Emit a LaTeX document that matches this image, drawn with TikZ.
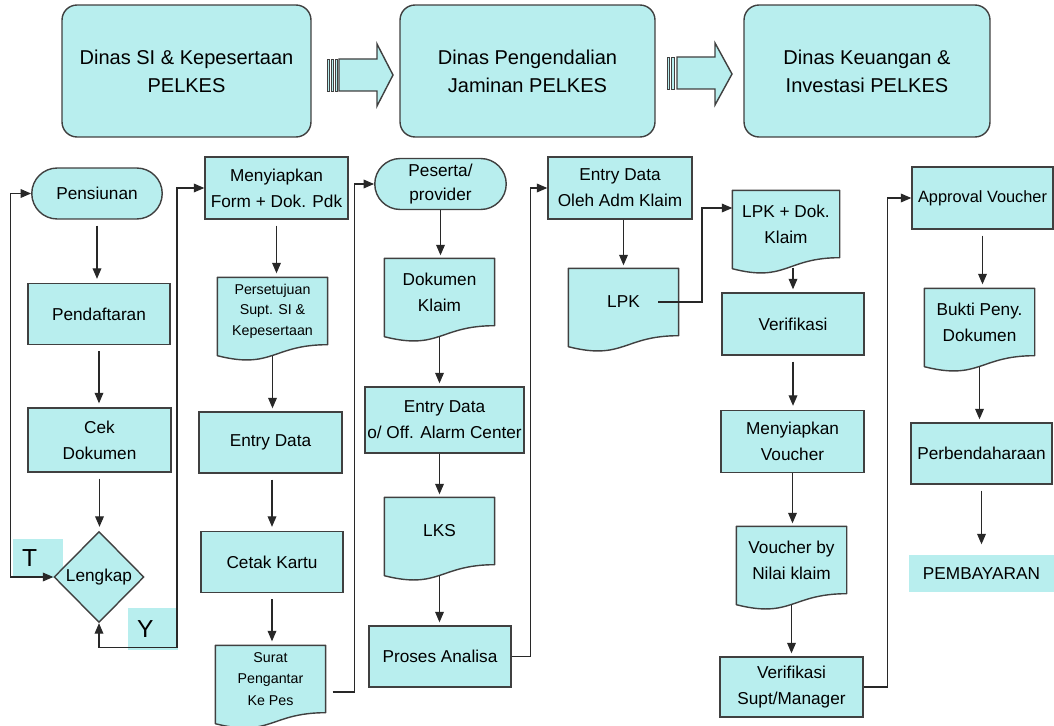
\documentclass[tikz,border=0pt]{standalone}
\usepackage{fontspec}
\setmainfont{Liberation Sans}
\usetikzlibrary{shapes.geometric,shapes.misc,arrows.meta,calc}

\definecolor{boxfill}{RGB}{184,238,238}
\definecolor{boxline}{RGB}{64,64,64}
\definecolor{wire}{RGB}{40,40,40}

\tikzset{
  base/.style={draw=boxline, fill=boxfill, line width=0.8pt, inner sep=1pt, align=center,
    font=\fontsize{9.8}{14.8}\selectfont},
  header/.style={base, rounded corners=0.3cm, minimum height=2.64cm, font=\fontsize{11.4}{16}\selectfont},
  procbox/.style={base, minimum width=2.84cm, minimum height=1.22cm},
  termbox/.style={base, rounded rectangle, minimum width=2.7cm, minimum height=1.02cm},
  decide/.style={base, diamond, aspect=1, inner sep=0pt, minimum width=1.8cm, minimum height=1.82cm},
  docbox/.style={base, draw=none, minimum width=2.18cm, minimum height=1.32cm},
  tagbox/.style={fill=boxfill, font=\fontsize{14}{16}\selectfont, minimum width=1cm,
    inner xsep=0.18cm, text width=0.64cm, align=left},
  link/.style={draw=wire, line width=0.6pt, -{Triangle[length=6pt,width=5pt]}},
  flow/.style={link, shorten <=0.12cm, shorten >=0.08cm},
  flowtight/.style={link, shorten >=0.06cm},
  loopback/.style={draw=wire, line width=0.6pt,
    {Triangle[length=6pt,width=5pt]}-{Triangle[length=6pt,width=5pt]}},
  bigarrow/.style={draw=boxline, fill=boxfill, line width=0.8pt},
}

% wavy bottom of a document node
\newcommand\docwave[1]{%
  \fill[boxfill] (#1.south east) .. controls (#1.south) and ([yshift=-0.5cm]#1.south) ..
    ([yshift=-0.22cm]#1.south west) -- ([yshift=1pt]#1.south west) -- ([yshift=1pt]#1.south east) -- cycle;
  \draw[boxline, line width=0.8pt, line join=round] ([yshift=-0.22cm]#1.south west) -- (#1.north west)
    -- (#1.north east) -- (#1.south east) .. controls (#1.south) and ([yshift=-0.5cm]#1.south) ..
    ([yshift=-0.22cm]#1.south west) -- cycle;
}

\begin{document}
\begin{tikzpicture}[x=0.02cm, y=-0.02cm]
  \useasboundingbox (0,0) rectangle (1054,726);

  % headers
  \node[header, minimum width=4.98cm] (dinasSI) at (186.5,71) {Dinas SI \& Kepesertaan\\PELKES};
  \node[header, minimum width=5.1cm] (dinasPJ) at (527.5,71) {Dinas Pengendalian\\Jaminan PELKES};
  \node[header, minimum width=4.92cm] (dinasKI) at (867,71) {Dinas Keuangan \&\\Investasi PELKES};

  \draw[bigarrow] (339,59) -- (377,59) -- (377,44) -- (393,75) -- (377,106) -- (377,91) -- (339,91) -- cycle;
  \foreach \s in {327,331,335}
    \draw[bigarrow, line width=0.5pt] (\s,59) rectangle ++(2.5,32);
  \draw[bigarrow] (677,57) -- (715,57) -- (715,43) -- (732,74) -- (715,105) -- (715,89) -- (677,89) -- cycle;
  \foreach \s in {667,671.5}
    \draw[bigarrow, line width=0.5pt] (\s,57) rectangle ++(2.5,32);

  % SI & Kepesertaan
  \node[termbox, minimum width=2.68cm] (pensiunan) at (97,193.5) {Pensiunan};
  \node[procbox] (daftar) at (99,314) {Pendaftaran};
  \node[procbox, minimum width=2.86cm, minimum height=1.28cm] (cekdok) at (99.5,440) {Cek\\Dokumen};
  \node[tagbox, minimum height=0.78cm] (tagT) at (38,558.5) {T};
  \node[decide] (lengkap) at (99,577) {Lengkap};
  \node[tagbox, minimum height=0.84cm] (tagY) at (153,629) {Y};

  \node[procbox, minimum width=2.86cm, minimum height=1.24cm] (siapform) at (276.5,188) {Menyiapkan\\Form + Dok. Pdk};
  \node[docbox, font=\fontsize{8.1}{11.6}\selectfont] (setuju) at (272.5,311) {Persetujuan\\Supt. SI \&\\Kepesertaan};
  \docwave{setuju}
  \node[procbox, minimum width=2.86cm] (entrySI) at (270.5,442.5) {Entry Data};
  \node[procbox] (cetak) at (272,562) {Cetak Kartu};
  \node[docbox, font=\fontsize{8.1}{12.2}\selectfont] (surat) at (270.5,679) {Surat\\Pengantar\\Ke Pes};
  \docwave{surat}

  % Pengendalian Jaminan
  \node[termbox, font=\fontsize{9.8}{13.6}\selectfont] (peserta) at (440.5,184) {Peserta/\\provider};
  \node[docbox] (dokklaim) at (439.5,292) {Dokumen\\Klaim};
  \docwave{dokklaim}
  \node[procbox, minimum width=3.18cm, minimum height=1.32cm] (entryAC) at (444.5,420) {Entry Data\\o/ Off. Alarm Center};
  \node[docbox] (lks) at (439.5,531) {LKS};
  \docwave{lks}
  \node[procbox] (analisa) at (440,656.5) {Proses Analisa};

  \node[procbox, minimum width=2.88cm, minimum height=1.24cm] (entryAdm) at (620,188) {Entry Data\\Oleh Adm Klaim};
  \node[docbox] (lpk) at (623.5,302) {LPK};
  \docwave{lpk}

  % Keuangan & Investasi
  \node[docbox, minimum width=2.12cm] (lpkdok) at (786,224) {LPK + Dok.\\Klaim};
  \docwave{lpkdok}
  \node[procbox, minimum height=1.24cm] (verif) at (793,324) {Verifikasi};
  \node[procbox, minimum width=2.86cm, minimum height=1.24cm] (siapvoucher) at (792.5,441.5) {Menyiapkan\\Voucher};
  \node[docbox] (voucher) at (791.5,560) {Voucher by\\Nilai klaim};
  \docwave{voucher}
  \node[procbox, minimum width=2.86cm, minimum height=1.2cm] (verifsupt) at (791.5,687) {Verifikasi\\Supt/Manager};

  \node[procbox, minimum width=2.82cm, minimum height=1.24cm, inner sep=0pt,
    font=\fontsize{9.3}{12}\selectfont] (approval) at (982.5,198) {Approval Voucher};
  \node[docbox] (bukti) at (979.5,322) {Bukti Peny.\\Dokumen};
  \docwave{bukti}
  \node[procbox, minimum width=2.82cm] (bendahara) at (981.5,453.5) {Perbendaharaan};
  \node[procbox, draw=none, minimum width=2.9cm, minimum height=0.74cm] (bayar) at (981.5,573.5) {PEMBAYARAN};

  % connectors
  \draw[flow] (pensiunan.south) -- (pensiunan.south |- daftar.north);
  \draw[flow] (daftar.south) -- (daftar.south |- cekdok.north);
  \draw[flow] (cekdok.south) -- (cekdok.south |- lengkap.north);
  \draw[loopback] (lengkap.west) -- ++(-43,0) |- (pensiunan.west);
  \draw[loopback] (lengkap.south) -- ++(0,24) -- ++(78,0) |- (siapform.west);

  \draw[flow] (siapform.south) -- (siapform.south |- setuju.north);
  \draw[flowtight] ([yshift=-0.22cm]setuju.south) -- (setuju.south |- entrySI.north);
  \draw[flow] (cetak.north |- entrySI.south) -- (cetak.north);
  \draw[flow] (cetak.south) -- (cetak.south |- surat.north);
  \draw[link] ([xshift=0.14cm,yshift=-0.26cm]surat.east) -- ++(22,0) |- (peserta.west);

  \draw[flowtight] (peserta.south) -- (peserta.south |- dokklaim.north);
  \draw[flowtight] ([yshift=-0.22cm]dokklaim.south) -- (dokklaim.south |- entryAC.north);
  \draw[flowtight] (lks.north |- entryAC.south) -- (lks.north);
  \draw[flowtight] ([yshift=-0.22cm]lks.south) -- (lks.south |- analisa.north);
  \draw[link] (analisa.east) -- ++(19,0) |- (entryAdm.west);

  \draw[flowtight] (lpk.north |- entryAdm.south) -- (lpk.north);
  \draw[link] ([xshift=0.69cm]lpk.center) -- ++(44,0) |- ([yshift=0.32cm]lpkdok.west);

  \draw[flowtight] ($(verif.north |- lpkdok.south)+(0,10)$) -- (verif.north);
  \draw[flow] (verif.south) -- (verif.south |- siapvoucher.north);
  \draw[flowtight] (siapvoucher.south) -- (siapvoucher.south |- voucher.north);
  \draw[flowtight] ([yshift=-0.22cm]voucher.south) -- (voucher.south |- verifsupt.north);
  \draw[link] (verifsupt.east) -- ++(24,0) |- (approval.west);

  \draw[flow] (approval.south) -- (approval.south |- bukti.north);
  \draw[flowtight] ([yshift=-0.22cm]bukti.south) -- (bukti.south |- bendahara.north);
  \draw[flow, shorten >=0.2cm] (bendahara.south) -- (bendahara.south |- bayar.north);
\end{tikzpicture}
\end{document}
